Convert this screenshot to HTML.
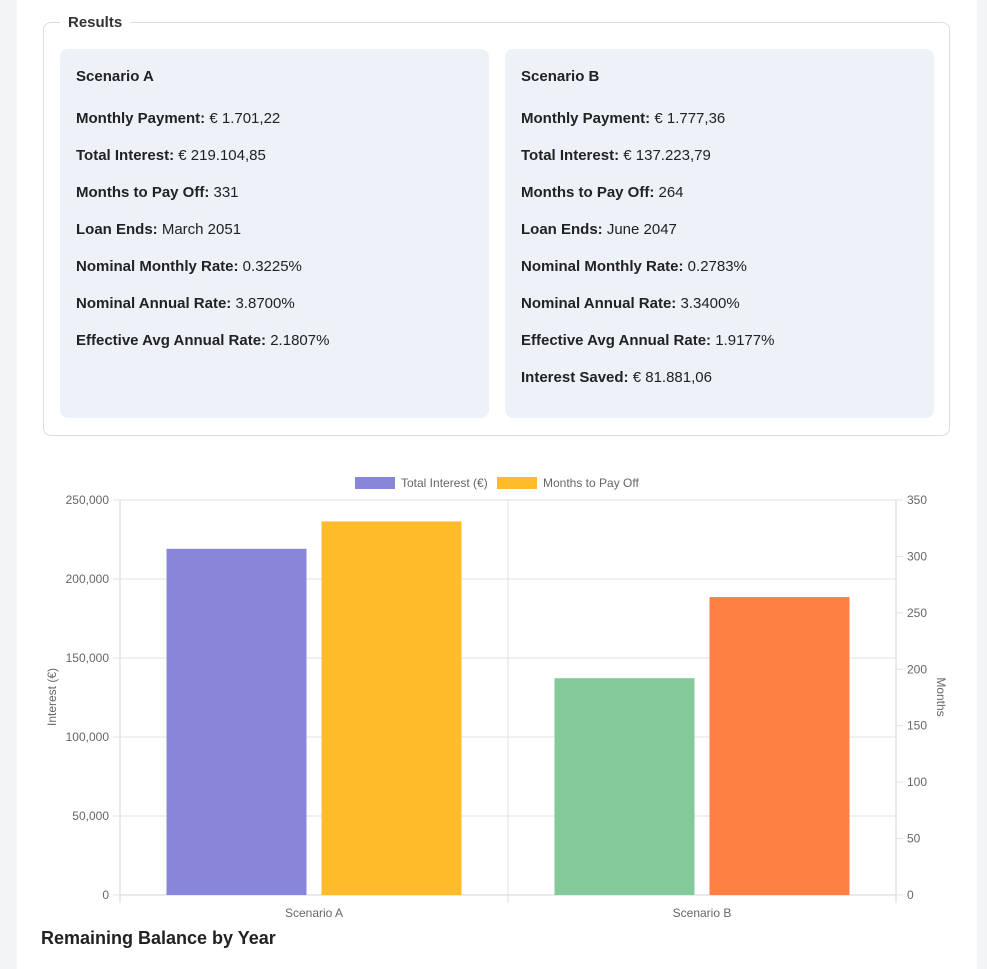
<!DOCTYPE html>
<html><head><meta charset="utf-8"><style>
body{margin:0;width:987px;height:969px;background:#f3f4f6;font-family:"Liberation Sans",sans-serif;color:#222;overflow:hidden;position:relative}
.card{position:absolute;left:17px;top:0;width:960px;height:969px;background:#fff}
fieldset{position:absolute;left:43px;top:14px;width:907px;height:422px;border:1px solid #ddd;border-radius:8px;margin:0;padding:0;box-sizing:border-box}
legend{font-weight:bold;font-size:15px;margin-left:16px;padding:0 8px;color:#333}
.sc{position:absolute;top:49px;width:429px;height:369px;background:#edf2f9;border-radius:8px;box-sizing:border-box;padding:0 16px;font-size:15px}
.sc p{margin:0;position:absolute;left:16px;white-space:nowrap}
h2{position:absolute;left:41px;top:928px;margin:0;font-size:18px;color:#222}
svg text{font-family:"Liberation Sans",sans-serif;font-size:12px;fill:#666}
</style></head><body>
<div class="card"></div>
<fieldset><legend>Results</legend></fieldset>
<div class="sc" style="left:60px">
<p style="top:19px;font-weight:bold">Scenario A</p>
<p style="top:61px"><b>Monthly Payment:</b> € 1.701,22</p>
<p style="top:98px"><b>Total Interest:</b> € 219.104,85</p>
<p style="top:135px"><b>Months to Pay Off:</b> 331</p>
<p style="top:172px"><b>Loan Ends:</b> March 2051</p>
<p style="top:209px"><b>Nominal Monthly Rate:</b> 0.3225%</p>
<p style="top:246px"><b>Nominal Annual Rate:</b> 3.8700%</p>
<p style="top:283px"><b>Effective Avg Annual Rate:</b> 2.1807%</p>
</div>
<div class="sc" style="left:505px">
<p style="top:19px;font-weight:bold">Scenario B</p>
<p style="top:61px"><b>Monthly Payment:</b> € 1.777,36</p>
<p style="top:98px"><b>Total Interest:</b> € 137.223,79</p>
<p style="top:135px"><b>Months to Pay Off:</b> 264</p>
<p style="top:172px"><b>Loan Ends:</b> June 2047</p>
<p style="top:209px"><b>Nominal Monthly Rate:</b> 0.2783%</p>
<p style="top:246px"><b>Nominal Annual Rate:</b> 3.3400%</p>
<p style="top:283px"><b>Effective Avg Annual Rate:</b> 1.9177%</p>
<p style="top:320px"><b>Interest Saved:</b> € 81.881,06</p>
</div>
<svg id="chart" width="987" height="969" style="position:absolute;left:0;top:0"></svg>
<h2>Remaining Balance by Year</h2>
<script>
const categories=["Scenario A","Scenario B"];
const interestValues=[219104.85,137223.79];
const monthsValues=[331,264];
const leftTicks=[0,50000,100000,150000,200000,250000];
const rightTicks=[0,50,100,150,200,250,300,350];
const interestColors=["#8985d8","#84c99a"];
const monthsColors=["#ffbb2a","#ff8042"];
const svg=document.getElementById('chart');
const NS="http://www.w3.org/2000/svg";
const L=120,R=896,T=500,B=895;
const yL=v=>B-(v/250000)*(B-T);
const yR=v=>B-(v/350)*(B-T);
const band=(R-L)/categories.length;
function mk(t,a,txt){const e=document.createElementNS(NS,t);for(const k in a)e.setAttribute(k,a[k]);if(txt!=null)e.textContent=txt;svg.appendChild(e);return e;}
leftTicks.forEach(v=>{const y=yL(v);
const g=mk('line',{x1:113,x2:R,y1:y,y2:y,stroke:'#e2e2e2'});


const t=mk('text',{x:109,y:y+4,'text-anchor':'end'},v.toLocaleString('en-US'));

});
rightTicks.forEach(v=>{const y=yR(v);
mk('line',{x1:R,x2:903,y1:y,y2:y,stroke:'#e2e2e2'});
const t=mk('text',{x:907,y:y+4},String(v));

});
for(let i=0;i<=categories.length;i++){const x=L+i*band;mk('line',{x1:x,x2:x,y1:T,y2:903,stroke:i==0||i==categories.length?'#d5d5d5':'#e2e2e2'});}
mk('line',{x1:L,x2:R,y1:B,y2:B,stroke:'#d5d5d5'});
const bw=140,gap=15;
categories.forEach((c,i)=>{const cx=L+band*(i+0.5);
const y1=yL(interestValues[i]);
const b1=mk('rect',{x:cx-gap/2-bw,y:y1,width:bw,height:B-y1,fill:interestColors[i]});


const y2=yR(monthsValues[i]);
const b2=mk('rect',{x:cx+gap/2,y:y2,width:bw,height:B-y2,fill:monthsColors[i]});


const t=mk('text',{x:cx,y:917,'text-anchor':'middle'},c);

});
const ya=mk('text',{transform:'translate(56,697) rotate(-90)','text-anchor':'middle'},'Interest (€)');


const yb=mk('text',{transform:'translate(937,697) rotate(90)','text-anchor':'middle'},'Months');


const l1=mk('rect',{x:355,y:477,width:40,height:12,fill:interestColors[0]});


mk('text',{x:401,y:487},'Total Interest (€)');
const l2=mk('rect',{x:497,y:477,width:40,height:12,fill:monthsColors[0]});


mk('text',{x:543,y:487},'Months to Pay Off');
</script>
</body></html>
